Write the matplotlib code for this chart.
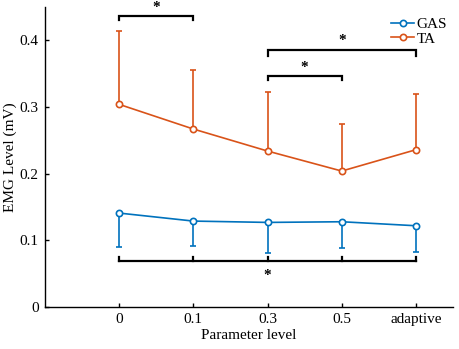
import numpy as np
import matplotlib
matplotlib.use('Agg')
import matplotlib.pyplot as plt
from matplotlib.lines import Line2D

plt.rcParams['font.family'] = ['Liberation Serif', 'DejaVu Serif']

levels = ['0', '0.1', '0.3', '0.5', 'adaptive']
gas_mean = [0.141, 0.129, 0.127, 0.128, 0.122]
gas_low = [0.090, 0.091, 0.081, 0.089, 0.082]
ta_mean = [0.304, 0.267, 0.234, 0.204, 0.236]
ta_high = [0.414, 0.355, 0.322, 0.275, 0.319]

# significance brackets: (start index, end index, bar height, tip height, star height)
brackets_top = [(0, 1, 0.436, 0.430, 0.449),
                (2, 4, 0.385, 0.376, 0.399),
                (2, 3, 0.346, 0.340, 0.360)]

blue = '#0072BD'
orange = '#D95319'

x = np.arange(1, len(levels) + 1)
gas_mean = np.array(gas_mean)
ta_mean = np.array(ta_mean)

fig = plt.figure(figsize=(4.59, 3.49), dpi=100)
ax = fig.add_axes([0.098, 0.12, 0.889, 0.86])

ax.errorbar(x, gas_mean, yerr=[gas_mean - np.array(gas_low), np.zeros(len(x))],
            color=blue, lw=1.2, capsize=2.5, capthick=1.2,
            marker='o', ms=4.5, mfc='white', mec=blue, mew=1.2)
ax.errorbar(x, ta_mean, yerr=[np.zeros(len(x)), np.array(ta_high) - ta_mean],
            color=orange, lw=1.2, capsize=2.5, capthick=1.2,
            marker='o', ms=4.5, mfc='white', mec=orange, mew=1.2)

for i, j, yb, yt, ys in brackets_top:
    ax.plot([x[i], x[i], x[j], x[j]], [yt, yb, yb, yt], color='black', lw=1.6,
            solid_joinstyle='miter')
    ax.text((x[i] + x[j]) / 2, ys, '*', ha='center', va='center', fontsize=11,
            fontweight='bold')

# bottom bracket spanning all levels
yb, yt = 0.069, 0.075
ax.plot([x[0], x[-1]], [yb, yb], color='black', lw=1.6)
for xi in x:
    ax.plot([xi, xi], [yb, yt], color='black', lw=1.6)
ax.text(x[2], 0.047, '*', ha='center', va='center', fontsize=11, fontweight='bold')

ax.set_xlim(0, 5.5)
ax.set_ylim(0, 0.45)
ax.set_xticks(x)
ax.set_xticklabels(levels)
ax.set_yticks([0, 0.1, 0.2, 0.3, 0.4])
ax.set_yticklabels(['0', '0.1', '0.2', '0.3', '0.4'])
ax.tick_params(direction='in', labelsize=11, length=3, width=1, pad=4.5)
ax.spines['top'].set_visible(False)
ax.spines['right'].set_visible(False)
ax.spines['left'].set_linewidth(1)
ax.spines['bottom'].set_linewidth(1)
ax.set_xlabel('Parameter level', fontsize=11, labelpad=2)
ax.set_ylabel('EMG Level (mV)', fontsize=11)
ax.yaxis.set_label_coords(-0.068, 0.5)

handles = [Line2D([], [], color=blue, lw=1.2, marker='o', ms=4.5, mfc='white', mew=1.2),
           Line2D([], [], color=orange, lw=1.2, marker='o', ms=4.5, mfc='white', mew=1.2)]
ax.legend(handles, ['GAS', 'TA'], loc='upper right', frameon=False, fontsize=11,
          handlelength=1.5, handletextpad=0.15, labelspacing=0.05,
          borderaxespad=0.0, bbox_to_anchor=(1.0, 0.985))

fig.savefig('out.png', dpi=100)
